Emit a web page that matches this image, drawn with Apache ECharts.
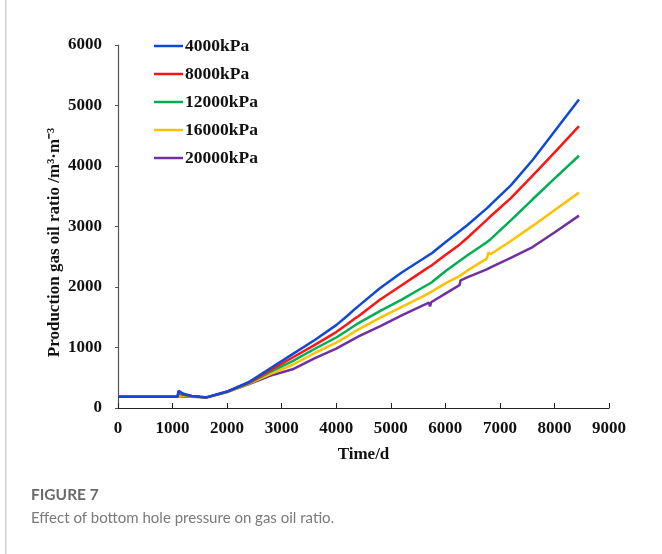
<!DOCTYPE html>
<html>
<head>
<meta charset="utf-8">
<style>
  html, body { margin: 0; padding: 0; background: #fff; }
  #chart { width: 662px; height: 554px; }
</style>
<script src="https://cdn.jsdelivr.net/npm/echarts@6/dist/echarts.min.js"></script>
</head>
<body>
<div id="chart"></div>
<script>
// Production time (days) shared by every pressure case
var days = [0, 500, 1000, 1090, 1110, 1200, 1350, 1500, 1620, 2000, 2400, 2800, 3200, 3600, 4000,
  4200, 4360, 4380, 4400, 4800, 5200, 5600, 5700, 5720, 5740, 6000, 6260, 6280, 6400,
  6760, 6790, 6830, 7200, 7600, 8000, 8450];

// Producing gas-oil ratio (m3/m3) for each bottom hole pressure
var gor4000 = [185, 185, 185, 185, 285, 235, 200, 185, 175, 272, 430, 660, 890, 1120, 1370,
  1520, 1650, 1665, 1680, 1980, 2240, 2470, 2530, 2540, 2550, 2740, 2920, 2935, 3020,
  3300, 3325, 3360, 3680, 4100, 4570, 5100];
var gor8000 = [185, 185, 185, 185, 262, 225, 198, 185, 175, 270, 420, 630, 835, 1040, 1255,
  1385, 1490, 1500, 1512, 1790, 2030, 2270, 2330, 2340, 2352, 2530, 2700, 2715, 2810,
  3110, 3135, 3170, 3470, 3840, 4220, 4660];
var gor12000 = [185, 185, 185, 185, 240, 215, 195, 183, 175, 268, 410, 600, 775, 975, 1165,
  1280, 1375, 1387, 1400, 1600, 1790, 2000, 2050, 2060, 2070, 2260, 2430, 2442, 2520,
  2740, 2762, 2790, 3100, 3450, 3790, 4170];
var gor16000 = [185, 185, 185, 185, 215, 200, 192, 182, 175, 265, 405, 565, 715, 905, 1080,
  1185, 1275, 1305, 1295, 1490, 1670, 1850, 1900, 1910, 1920, 2060, 2180, 2205, 2270,
  2470, 2570, 2540, 2760, 3010, 3270, 3560];
var gor20000 = [185, 185, 185, 185, 195, 190, 186, 180, 172, 262, 395, 535, 640, 820, 980,
  1080, 1158, 1168, 1178, 1350, 1530, 1700, 1740, 1680, 1748, 1890, 2030, 2110, 2160,
  2290, 2305, 2325, 2480, 2660, 2900, 3180];

var seriesNames = ['4000kPa', '8000kPa', '12000kPa', '16000kPa', '20000kPa'];
var seriesValues = [gor4000, gor8000, gor12000, gor16000, gor20000];
var seriesColors = ['#1048d8', '#ff1414', '#00b050', '#ffc000', '#7030a0'];

var xTicks = [0, 9000, 1000];   // min, max, step
var yTicks = [0, 6000, 1000];

var serif = '"Liberation Serif", "Times New Roman", serif';
var sans = 'Lato, "Open Sans", sans-serif';

var chart = echarts.init(document.getElementById('chart'), null, { renderer: 'canvas' });

var series = seriesNames.map(function (name, k) {
  return {
    name: name,
    type: 'line',
    showSymbol: false,
    symbol: 'none',
    smooth: false,
    lineStyle: { width: 2.5, color: seriesColors[k] },
    itemStyle: { color: seriesColors[k] },
    data: days.map(function (d, i) { return [d, seriesValues[k][i]]; }),
    z: 10 - k
  };
});

function plain(v) { return String(v); }

chart.setOption({
  animation: false,
  backgroundColor: '#ffffff',
  grid: { left: 118, right: 53, top: 45, bottom: 146, containLabel: false },
  legend: {
    orient: 'vertical',
    left: 154,
    top: 37,
    padding: 0,
    icon: 'rect',
    itemWidth: 29,
    itemHeight: 2.5,
    itemGap: 10,
    textStyle: { fontFamily: serif, fontWeight: 'bold', fontSize: 17.5, color: '#111', padding: [0, 0, 0, -3] },
    data: seriesNames
  },
  xAxis: {
    type: 'value',
    min: xTicks[0], max: xTicks[1], interval: xTicks[2],
    name: 'Time/d',
    nameLocation: 'middle',
    nameGap: 38,
    nameTextStyle: { fontFamily: serif, fontWeight: 'bold', fontSize: 17, color: '#111' },
    axisLine: { lineStyle: { color: '#222', width: 1.2 } },
    axisTick: { inside: true, length: 5, lineStyle: { color: '#222' } },
    axisLabel: { fontFamily: serif, fontWeight: 'bold', fontSize: 17, color: '#111', margin: 12, formatter: plain },
    splitLine: { show: false }
  },
  yAxis: {
    type: 'value',
    min: yTicks[0], max: yTicks[1], interval: yTicks[2],
    name: 'Production gas oil ratio /m³·m⁻³',
    nameLocation: 'middle',
    nameGap: 55,
    nameMoveOverlap: false,
    nameTextStyle: { fontFamily: serif, fontWeight: 'bold', fontSize: 17, color: '#111', padding: [0, 32, 0, 0] },
    axisLine: { show: true, lineStyle: { color: '#555', width: 1.2 } },
    axisTick: { show: true, inside: false, length: 3, lineStyle: { color: '#555' } },
    axisLabel: { fontFamily: serif, fontWeight: 'bold', fontSize: 17, color: '#111', margin: 16, formatter: plain },
    splitLine: { show: false }
  },
  graphic: [
    {
      type: 'rect',
      shape: { x: 5, y: 0, width: 1.5, height: 554 },
      style: { fill: '#d0d0d0' },
      silent: true
    },
    {
      type: 'text',
      left: 31, top: 487,
      style: { text: 'FIGURE 7', fontFamily: sans, fontWeight: 'bold', fontSize: 15.5, fill: '#6a6a6a' }
    },
    {
      type: 'text',
      left: 31, top: 511,
      style: { text: 'Effect of bottom hole pressure on gas oil ratio.', fontFamily: sans, fontSize: 15, fill: '#7a7a7a' }
    }
  ],
  series: series
});
</script>
</body>
</html>
